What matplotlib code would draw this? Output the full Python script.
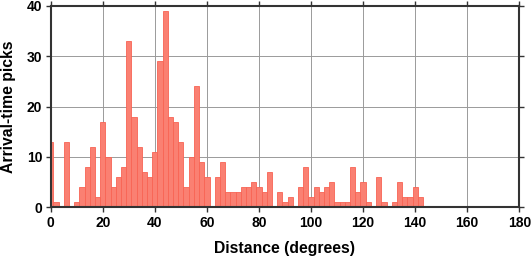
import matplotlib
matplotlib.use("Agg")
import matplotlib.pyplot as plt
import numpy as np

# bin centres (degrees) and counts
centers = [0, 2, 4, 6, 8, 10, 12, 14, 16, 18, 20, 22, 24, 26, 28, 30, 32, 34, 36, 38,
           40, 42, 44, 46, 48, 50, 52, 54, 56, 58, 60, 62, 64, 66, 68, 70, 72, 74, 76, 78,
           80, 82, 84, 86, 88, 90, 92, 94, 96, 98, 100, 102, 104, 106, 108, 110, 112, 114, 116, 118,
           120, 122, 124, 126, 128, 130, 132, 134, 136, 138, 140, 142]
counts = [13, 1, 0, 13, 0, 1, 4, 8, 12, 2, 17, 10, 4, 6, 8, 33, 18, 12, 7, 6,
          11, 29, 39, 18, 17, 13, 4, 10, 24, 9, 6, 0, 6, 9, 3, 3, 3, 4, 4, 5,
          4, 3, 7, 0, 3, 1, 2, 0, 4, 8, 2, 4, 3, 4, 5, 1, 1, 1, 8, 3,
          5, 1, 0, 6, 1, 0, 1, 5, 2, 2, 4, 2]
bin_width = 2

plt.rcParams['font.family'] = ['Liberation Sans', 'DejaVu Sans']
plt.rcParams['font.weight'] = 'bold'

fig = plt.figure(figsize=(5.31, 2.58), dpi=100)
ax = fig.add_axes([50.7/531, 1-207.3/258, (519.3-50.7)/531, (207.3-5.7)/258])

ax.set_axisbelow(True)
ax.grid(True, color='#9a9a9a', linewidth=0.7)
ax.bar(centers, counts, width=bin_width, color='#FA8072', edgecolor='#F86454',
       linewidth=0.6, align='center', zorder=2)

ax.set_xlim(0, 180)
ax.set_ylim(0, 40)
ax.set_xticks(np.arange(0, 181, 20))
ax.set_yticks(np.arange(0, 41, 10))
ax.tick_params(direction='out', length=3.5, width=1.0, color='#333333',
               labelsize=10, top=True, right=True, pad=2.5)
for lab in ax.get_xticklabels() + ax.get_yticklabels():
    lab.set_fontweight('bold')
for sp in ax.spines.values():
    sp.set_linewidth(1.5)
    sp.set_color('#333333')
    sp.set_zorder(3)

ax.set_xlabel('Distance (degrees)', fontsize=11.3, fontweight='bold', labelpad=8)
ax.set_ylabel('Arrival-time picks', fontsize=11.3, fontweight='bold', labelpad=8)

fig.savefig('out.png', dpi=100)
